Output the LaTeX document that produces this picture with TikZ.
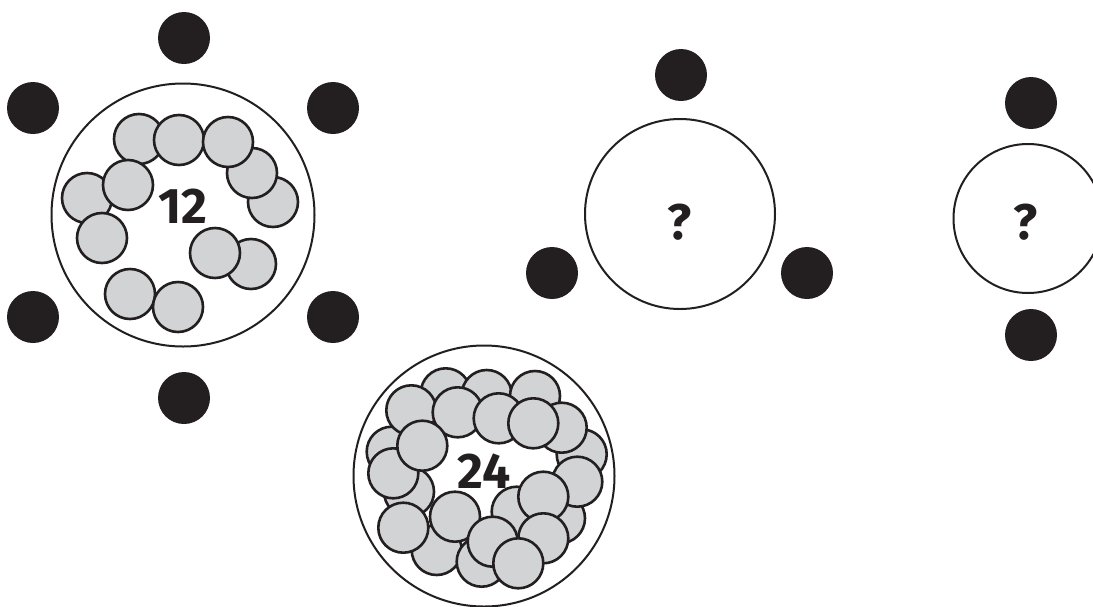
\documentclass[tikz,border=0pt]{standalone}
\usepackage{fontspec}
\setmainfont{Fira Sans}
\definecolor{inkblack}{HTML}{231F20}
\definecolor{discgray}{HTML}{D1D3D4}
\begin{document}
\begin{tikzpicture}[x=1pt,y=-1pt,
  ring/.style={circle,draw=inkblack,line width=2pt,fill=white,inner sep=0pt,minimum size=#1},
  blackdot/.style={circle,fill=inkblack,inner sep=0pt,minimum size=52pt},
  graydisc/.style={circle,draw=inkblack,line width=2.6pt,fill=discgray,inner sep=0pt,minimum size=50pt},
  lbl/.style={inner sep=0pt,text=inkblack,font=\fontsize{50}{54}\selectfont\bfseries}]
\useasboundingbox (0,0) rectangle (1093,606);
% ---- group 1: 12
\node[blackdot] (d1a) at (184,38) {};
\node[blackdot] (d1b) at (33,108) {};
\node[blackdot] (d1c) at (333,108) {};
\node[blackdot] (d1d) at (33,317) {};
\node[blackdot] (d1e) at (333,317) {};
\node[blackdot] (d1f) at (184,398) {};
\node[ring=263pt] (r1) at (183,215) {};
\node[graydisc] (a1) at (139,139) {};
\node[graydisc] (a2) at (179,140) {};
\node[graydisc] (a5) at (273,202) {};
\node[graydisc] (a4) at (252,173) {};
\node[graydisc] (a3) at (228,142) {};
\node[graydisc] (a7) at (87,198) {};
\node[graydisc] (a6) at (128,185) {};
\node[graydisc] (a8) at (102,238) {};
\node[graydisc] (a10) at (251,264) {};
\node[graydisc] (a9) at (215,253) {};
\node[graydisc] (a11) at (130,294) {};
\node[graydisc] (a12) at (178,307) {};
\node[lbl] (t12) at (183,206) {12};
% ---- group 2: ? with three dots
\node[blackdot] (d2a) at (681,75) {};
\node[blackdot] (d2b) at (552,273) {};
\node[blackdot] (d2c) at (807,273) {};
\node[ring=190pt] (r2) at (680,214) {};
\node[lbl] (q2) at (680,222) {?};
% ---- group 3: ? with two dots
\node[blackdot] (d3a) at (1031,103) {};
\node[blackdot] (d3b) at (1031,335) {};
\node[ring=149pt] (r3) at (1028,218.5) {};
\node[lbl] (q3) at (1026,222) {?};
% ---- group 4: 24
\node[ring=261pt] (r4) at (484,476) {};
\node[graydisc] (b1) at (445.7,393.3) {};
\node[graydisc] (b2) at (486.7,395) {};
\node[graydisc] (b3) at (535,396) {};
\node[graydisc] (b4) at (391.7,451.7) {};
\node[graydisc] (b5) at (409,491.7) {};
\node[graydisc] (b6) at (436.7,550) {};
\node[graydisc] (b7) at (481.7,561.7) {};
\node[graydisc] (b8) at (516.7,511.7) {};
\node[graydisc] (b9) at (560,518.3) {};
\node[graydisc] (b10) at (581.7,454.3) {};
\node[graydisc] (b15) at (561.7,427.7) {};
\node[graydisc] (b11) at (411.3,410.3) {};
\node[graydisc] (b12) at (457.7,412.3) {};
\node[graydisc] (b13) at (498.7,418.3) {};
\node[graydisc] (b14) at (533.3,423.3) {};
\node[graydisc] (b16) at (577.3,481.7) {};
\node[graydisc] (b17) at (393.3,473.3) {};
\node[graydisc] (b18) at (422.3,445.7) {};
\node[graydisc] (b19) at (403.3,527.7) {};
\node[graydisc] (b20) at (455,516.7) {};
\node[graydisc] (b21) at (492.7,541.7) {};
\node[graydisc] (b22) at (543.3,496.7) {};
\node[graydisc] (b23) at (543.3,538.3) {};
\node[graydisc] (b24) at (518.3,563.3) {};
\node[lbl] (t24) at (484,471) {24};
\end{tikzpicture}
\end{document}
